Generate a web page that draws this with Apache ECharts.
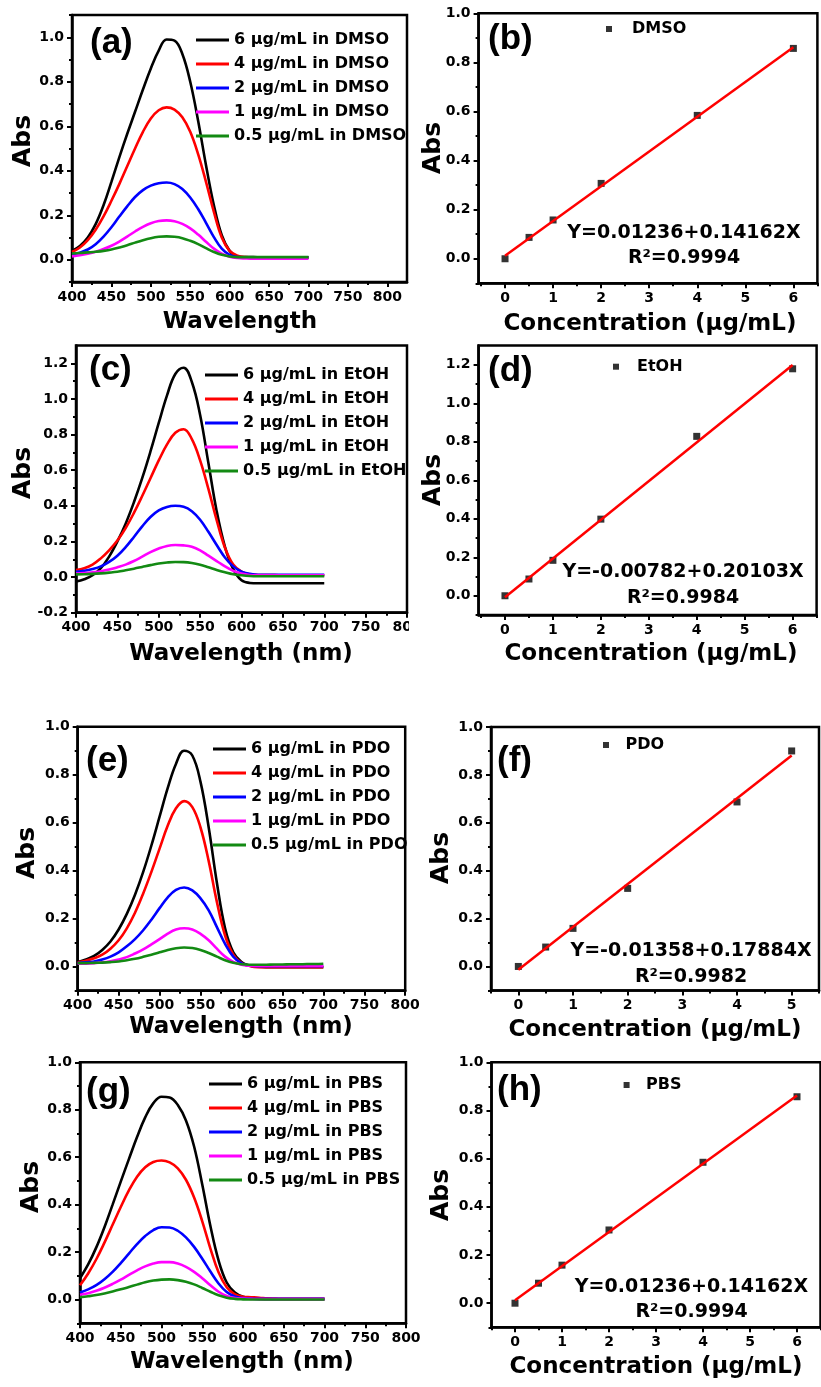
<!DOCTYPE html>
<html>
<head>
<meta charset="utf-8">
<script src="https://cdn.jsdelivr.net/npm/echarts@6/dist/echarts.min.js"></script>
<style>
  html, body { margin: 0; padding: 0; background: #fff; }
  #chart { width: 821px; height: 1387px; }
</style>
</head>
<body>
<div id="chart"></div>
<script>
// ---------- data ----------
const solvents = ['DMSO', 'EtOH', 'PDO', 'PBS'];
const spectrumConcs = ['6', '4', '2', '1', '0.5'];

const wavelengths = [400, 410, 420, 430, 440, 450, 460, 470, 480, 490, 500, 510, 520, 530, 540, 550,
                     560, 570, 580, 590, 600, 610, 620, 630, 640, 650, 660, 670, 680, 690, 700];

// UV-vis absorbance spectra (one array per concentration)
const dmso6  = [0.040, 0.062, 0.100, 0.160, 0.245, 0.350, 0.460, 0.565, 0.665, 0.765, 0.860, 0.940, 0.990, 0.985, 0.925, 0.800,
                0.625, 0.425, 0.245, 0.110, 0.040, 0.015, 0.012, 0.012, 0.011, 0.011, 0.011, 0.010, 0.010, 0.010, 0.010];
const dmso4  = [0.035, 0.055, 0.088, 0.135, 0.195, 0.265, 0.340, 0.420, 0.500, 0.575, 0.635, 0.672, 0.685, 0.675, 0.640, 0.575,
                0.475, 0.350, 0.215, 0.100, 0.040, 0.018, 0.012, 0.011, 0.011, 0.010, 0.010, 0.010, 0.010, 0.010, 0.010];
const dmso2  = [0.025, 0.032, 0.046, 0.070, 0.104, 0.146, 0.194, 0.240, 0.282, 0.313, 0.333, 0.344, 0.347, 0.340, 0.318, 0.280,
                0.228, 0.166, 0.102, 0.050, 0.022, 0.012, 0.010, 0.010, 0.010, 0.010, 0.010, 0.010, 0.010, 0.010, 0.010];
const dmso1  = [0.015, 0.020, 0.027, 0.036, 0.048, 0.063, 0.082, 0.104, 0.127, 0.148, 0.164, 0.174, 0.177, 0.173, 0.161, 0.141,
                0.113, 0.081, 0.050, 0.027, 0.014, 0.008, 0.006, 0.005, 0.005, 0.005, 0.005, 0.005, 0.005, 0.005, 0.005];
const dmso05 = [0.028, 0.030, 0.033, 0.036, 0.040, 0.046, 0.055, 0.065, 0.077, 0.088, 0.097, 0.103, 0.105, 0.103, 0.097, 0.085,
                0.070, 0.052, 0.035, 0.022, 0.015, 0.012, 0.012, 0.012, 0.012, 0.012, 0.012, 0.012, 0.012, 0.012, 0.012];

const etoh6  = [-0.025, -0.012, 0.010, 0.050, 0.115, 0.200, 0.300, 0.420, 0.555, 0.705, 0.865, 1.020, 1.140, 1.175, 1.095, 0.910,
                0.640, 0.370, 0.170, 0.045, -0.018, -0.033, -0.035, -0.035, -0.035, -0.035, -0.035, -0.035, -0.035, -0.035, -0.035];
const etoh4  = [0.040, 0.050, 0.070, 0.105, 0.150, 0.205, 0.275, 0.360, 0.455, 0.555, 0.655, 0.745, 0.810, 0.830, 0.775, 0.655,
                0.495, 0.320, 0.165, 0.070, 0.030, 0.015, 0.012, 0.011, 0.011, 0.010, 0.010, 0.010, 0.010, 0.010, 0.010];
const etoh2  = [0.030, 0.035, 0.045, 0.060, 0.085, 0.120, 0.168, 0.225, 0.285, 0.337, 0.374, 0.394, 0.400, 0.395, 0.370, 0.322,
                0.254, 0.180, 0.110, 0.060, 0.030, 0.018, 0.013, 0.013, 0.013, 0.013, 0.013, 0.013, 0.013, 0.013, 0.013];
const etoh1  = [0.020, 0.022, 0.027, 0.033, 0.042, 0.055, 0.070, 0.090, 0.115, 0.140, 0.160, 0.175, 0.180, 0.178, 0.170, 0.150,
                0.120, 0.090, 0.060, 0.035, 0.020, 0.012, 0.010, 0.010, 0.010, 0.010, 0.010, 0.010, 0.010, 0.010, 0.010];
const etoh05 = [0.015, 0.016, 0.018, 0.021, 0.025, 0.030, 0.038, 0.047, 0.057, 0.067, 0.076, 0.082, 0.085, 0.084, 0.079, 0.069,
                0.055, 0.040, 0.027, 0.016, 0.010, 0.006, 0.005, 0.005, 0.005, 0.005, 0.005, 0.005, 0.005, 0.005, 0.005];

const pdo6   = [0.020, 0.030, 0.045, 0.070, 0.105, 0.155, 0.220, 0.300, 0.395, 0.505, 0.625, 0.745, 0.845, 0.900, 0.880, 0.770,
                0.580, 0.350, 0.160, 0.060, 0.020, 0.005, 0.000, -0.002, -0.002, -0.002, -0.002, -0.002, -0.002, -0.002, -0.002];
const pdo4   = [0.018, 0.025, 0.035, 0.050, 0.075, 0.110, 0.160, 0.225, 0.305, 0.395, 0.492, 0.588, 0.660, 0.690, 0.665, 0.580,
                0.440, 0.270, 0.130, 0.050, 0.015, 0.003, -0.002, -0.002, -0.002, -0.002, -0.002, -0.002, -0.002, -0.002, -0.002];
const pdo2   = [0.015, 0.018, 0.022, 0.030, 0.042, 0.060, 0.085, 0.115, 0.152, 0.196, 0.244, 0.289, 0.320, 0.330, 0.318, 0.285,
                0.235, 0.165, 0.095, 0.042, 0.014, 0.004, 0.002, 0.002, 0.002, 0.002, 0.002, 0.002, 0.002, 0.002, 0.002];
const pdo1   = [0.012, 0.013, 0.015, 0.018, 0.023, 0.030, 0.040, 0.055, 0.072, 0.093, 0.115, 0.138, 0.155, 0.160, 0.155, 0.137,
                0.110, 0.075, 0.042, 0.020, 0.008, 0.004, 0.003, 0.003, 0.003, 0.003, 0.003, 0.003, 0.003, 0.003, 0.003];
const pdo05  = [0.015, 0.015, 0.016, 0.017, 0.019, 0.022, 0.027, 0.033, 0.041, 0.050, 0.060, 0.070, 0.077, 0.080, 0.078, 0.070,
                0.057, 0.042, 0.027, 0.016, 0.010, 0.008, 0.008, 0.008, 0.009, 0.009, 0.010, 0.010, 0.011, 0.011, 0.012];

const pbs6   = [0.090, 0.148, 0.220, 0.305, 0.400, 0.497, 0.592, 0.685, 0.768, 0.828, 0.855, 0.852, 0.820, 0.755, 0.645, 0.485,
                0.310, 0.165, 0.072, 0.030, 0.012, 0.005, 0.003, 0.002, 0.002, 0.002, 0.002, 0.002, 0.002, 0.002, 0.002];
const pbs4   = [0.060, 0.110, 0.170, 0.240, 0.315, 0.390, 0.460, 0.518, 0.558, 0.580, 0.586, 0.578, 0.553, 0.505, 0.430, 0.330,
                0.215, 0.115, 0.052, 0.022, 0.012, 0.010, 0.008, 0.005, 0.004, 0.003, 0.003, 0.003, 0.003, 0.003, 0.003];
const pbs2   = [0.030, 0.043, 0.061, 0.086, 0.117, 0.154, 0.194, 0.234, 0.268, 0.293, 0.305, 0.304, 0.290, 0.262, 0.222, 0.172,
                0.118, 0.068, 0.032, 0.013, 0.006, 0.004, 0.003, 0.003, 0.003, 0.003, 0.003, 0.003, 0.003, 0.003, 0.003];
const pbs1   = [0.020, 0.027, 0.037, 0.050, 0.066, 0.084, 0.104, 0.123, 0.140, 0.152, 0.158, 0.158, 0.152, 0.138, 0.117, 0.090,
                0.060, 0.033, 0.015, 0.007, 0.004, 0.003, 0.002, 0.002, 0.002, 0.002, 0.002, 0.002, 0.002, 0.002, 0.002];
const pbs05  = [0.010, 0.014, 0.019, 0.026, 0.034, 0.043, 0.053, 0.063, 0.073, 0.080, 0.084, 0.085, 0.082, 0.075, 0.064, 0.049,
                0.033, 0.018, 0.008, 0.003, 0.001, 0.000, 0.000, 0.000, 0.000, 0.000, 0.000, 0.000, 0.000, 0.000, 0.000];

// calibration points (concentration in μg/mL, absorbance at λmax)
const calConcDMSO = [0, 0.5, 1, 2, 4, 6];
const calAbsDMSO  = [0.000, 0.087, 0.158, 0.307, 0.584, 0.857];
const calConcEtOH = [0, 0.5, 1, 2, 4, 6];
const calAbsEtOH  = [0.000, 0.087, 0.184, 0.398, 0.828, 1.179];
const calConcPDO  = [0, 0.5, 1, 2, 4, 5];
const calAbsPDO   = [0.000, 0.081, 0.159, 0.326, 0.687, 0.900];
const calConcPBS  = [0, 0.5, 1, 2, 4, 6];
const calAbsPBS   = [0.000, 0.083, 0.158, 0.304, 0.585, 0.857];

// linear fits: Y = intercept + slope * X
const fitIntercept = [0.01236, -0.00782, -0.01358, 0.01236];
const fitSlope     = [0.14162, 0.20103, 0.17884, 0.14162];
const fitR2        = ['0.9994', '0.9984', '0.9982', '0.9994'];

// tick labels
const wlTicks   = [400, 450, 500, 550, 600, 650, 700, 750, 800];
const wlMinor   = [425, 475, 525, 575, 625, 675, 725, 775];
const absTicks  = [0, 0.2, 0.4, 0.6, 0.8, 1.0];
const absTicksC = [-0.2, 0, 0.2, 0.4, 0.6, 0.8, 1.0, 1.2];
const absTicksD = [0, 0.2, 0.4, 0.6, 0.8, 1.0, 1.2];
const absMinor  = [-0.1, 0.1, 0.3, 0.5, 0.7, 0.9, 1.1];
const concTicks6 = [0, 1, 2, 3, 4, 5, 6];
const concTicks5 = [0, 1, 2, 3, 4, 5];
const concMinor  = [-0.5, 0.5, 1.5, 2.5, 3.5, 4.5, 5.5, 6.5];

const panelTags = ['(a)', '(b)', '(c)', '(d)', '(e)', '(f)', '(g)', '(h)'];
const xTitles = ['Wavelength', 'Concentration (μg/mL)', 'Wavelength (nm)', 'Concentration (μg/mL)',
                 'Wavelength (nm)', 'Concentration (μg/mL)', 'Wavelength (nm)', 'Concentration (μg/mL)'];

// ---------- layout & style ----------
const FONT = '"DejaVu Sans", sans-serif';
const TAG_FONT = '"Liberation Sans", Arial, sans-serif';
const specColors = ['#000000', '#ff0000', '#0000ff', '#ff00ff', '#138a13'];

const spectraBySolvent = [
  [dmso6, dmso4, dmso2, dmso1, dmso05],
  [etoh6, etoh4, etoh2, etoh1, etoh05],
  [pdo6, pdo4, pdo2, pdo1, pdo05],
  [pbs6, pbs4, pbs2, pbs1, pbs05]
];
const calConc = [calConcDMSO, calConcEtOH, calConcPDO, calConcPBS];
const calAbs  = [calAbsDMSO, calAbsEtOH, calAbsPDO, calAbsPBS];

const fmtAbs = v => v.toFixed(1);
const fmtInt = v => String(v);

const panels = [
  { grid: { left: 72,    top: 15,     width: 335,   height: 267 },   x: [400, 825],   y: [-0.1, 1.1], xt: wlTicks,    xm: wlMinor,   yt: absTicks,  fx: fmtInt },
  { grid: { left: 478.6, top: 13.3,   width: 338.8, height: 270 },   x: [-0.55, 6.5], y: [-0.1, 1.0], xt: concTicks6, xm: concMinor, yt: absTicks,  fx: fmtInt },
  { grid: { left: 76,    top: 345.5,  width: 331,   height: 267.2 }, x: [400, 800],   y: [-0.2, 1.3], xt: wlTicks,    xm: wlMinor,   yt: absTicksC, fx: fmtInt },
  { grid: { left: 478.6, top: 345.5,  width: 338,   height: 269.5 }, x: [-0.55, 6.5], y: [-0.1, 1.3], xt: concTicks6, xm: concMinor, yt: absTicksD, fx: fmtInt },
  { grid: { left: 77.7,  top: 726.7,  width: 327.5, height: 264 },   x: [400, 800],   y: [-0.1, 1.0], xt: wlTicks,    xm: wlMinor,   yt: absTicks,  fx: fmtInt },
  { grid: { left: 491,   top: 727,    width: 328,   height: 263.4 }, x: [-0.5, 5.5],  y: [-0.1, 1.0], xt: concTicks5, xm: concMinor, yt: absTicks,  fx: fmtInt },
  { grid: { left: 80,    top: 1062.3, width: 326,   height: 261 },   x: [400, 800],   y: [-0.1, 1.0], xt: wlTicks,    xm: wlMinor,   yt: absTicks,  fx: fmtInt },
  { grid: { left: 491.5, top: 1062.3, width: 329,   height: 265 },   x: [-0.5, 6.5],  y: [-0.1, 1.0], xt: concTicks6, xm: concMinor, yt: absTicks,  fx: fmtInt }
];

// text anchors (centers)
const xTitlePos   = [[240, 322], [650, 324], [241, 654], [651, 654], [241, 1027], [655, 1030], [242, 1362], [656, 1367]];
const yTitlePos   = [[23, 141], [433, 148], [23, 473], [433, 480], [27.5, 853], [441.7, 858], [31.7, 1187], [441.7, 1195]];
const tagPos      = [[90, 43], [488, 39], [89, 370], [488, 371], [86, 761], [497, 761], [86, 1092], [497, 1090]];
const specLegendPos = [[196, 32], [205, 367], [213, 741], [209, 1076]];
const calLegendPos  = [[606, 21, 36], [613, 358.7, 32], [603, 737, 29], [623.6, 1077, 29]];
const eqPos         = [[684, 233, 258], [683, 572.5, 598], [691, 951, 977], [691.5, 1287, 1312.5]];

// ---------- option ----------
const tickLabel = { color: '#000', fontFamily: FONT, fontWeight: 'bold', fontSize: 14 };
const black = { color: '#000', width: 2 };

function axisPair(gi, range, major, minor, fmt, position) {
  const common = { type: 'value', gridIndex: gi, min: range[0], max: range[1], position: position, splitLine: { show: false } };
  return [
    Object.assign({}, common, {
      axisLine: { show: true, onZero: false, lineStyle: { color: '#000', width: 2.5 } },
      axisTick: { show: true, inside: false, length: 5, customValues: major, lineStyle: black },
      axisLabel: Object.assign({ show: true, customValues: major, formatter: fmt, margin: 8 }, tickLabel)
    }),
    Object.assign({}, common, {
      axisLine: { show: false, onZero: false },
      axisTick: { show: true, inside: false, length: 3, customValues: minor, lineStyle: black },
      axisLabel: { show: false }
    })
  ];
}

const xAxis = [], yAxis = [], series = [], legend = [], elements = [];

panels.forEach((p, i) => {
  xAxis.push(...axisPair(i, p.x, p.xt, p.xm, p.fx, 'bottom'));
  yAxis.push(...axisPair(i, p.y, p.yt, absMinor, fmtAbs, 'left'));
});

solvents.forEach((sv, s) => {
  // spectra panel
  const gs = 2 * s;
  const names = [];
  spectraBySolvent[s].forEach((vals, k) => {
    const name = spectrumConcs[k] + ' μg/mL in ' + sv;
    names.push(name);
    series.push({
      type: 'line', name: name, xAxisIndex: 2 * gs, yAxisIndex: 2 * gs,
      data: wavelengths.map((w, j) => [w, vals[j]]),
      symbol: 'none', smooth: 0.4,
      lineStyle: { width: 2.6, color: specColors[k] },
      itemStyle: { color: specColors[k] },
      z: 2 + k
    });
  });
  legend.push({
    left: specLegendPos[s][0], top: specLegendPos[s][1], orient: 'vertical',
    padding: 0, itemGap: 8, itemWidth: 33, itemHeight: 3, icon: 'rect',
    selectedMode: false, data: names,
    textStyle: { color: '#000', fontFamily: FONT, fontWeight: 'bold', fontSize: 16, lineHeight: 16 }
  });

  // calibration panel
  const gc = 2 * s + 1;
  const xs = calConc[s];
  series.push({
    type: 'scatter', name: sv, xAxisIndex: 2 * gc, yAxisIndex: 2 * gc,
    data: xs.map((c, j) => [c, calAbs[s][j]]),
    symbol: 'rect', symbolSize: 7, itemStyle: { color: '#000' }, z: 3
  });
  const xEnd = xs[xs.length - 1];
  series.push({
    type: 'line', name: 'fit ' + sv, xAxisIndex: 2 * gc, yAxisIndex: 2 * gc,
    data: [[0, fitIntercept[s]], [xEnd, fitIntercept[s] + fitSlope[s] * xEnd]],
    symbol: 'none', lineStyle: { width: 2.5, color: '#ff0000' }, itemStyle: { color: '#ff0000' }, z: 4
  });
  legend.push({
    left: calLegendPos[s][0], top: calLegendPos[s][1], orient: 'vertical',
    padding: 0, itemWidth: calLegendPos[s][2], itemHeight: 6,
    icon: 'path://M0,0L10,0L10,10L0,10Z', symbolKeepAspect: true,
    selectedMode: false, data: [sv],
    textStyle: { color: '#000', fontFamily: FONT, fontWeight: 'bold', fontSize: 16, lineHeight: 16 }
  });

  const eq = eqPos[s];
  elements.push({
    type: 'text', x: eq[0], y: eq[1], z: 10,
    style: { text: 'Y=' + fitIntercept[s] + '+' + fitSlope[s] + 'X', align: 'center', verticalAlign: 'middle',
             fill: '#000', font: 'bold 19px ' + FONT }
  });
  elements.push({
    type: 'text', x: eq[0], y: eq[2], z: 10,
    style: { text: 'R²=' + fitR2[s], align: 'center', verticalAlign: 'middle', fill: '#000', font: 'bold 19px ' + FONT }
  });
});

panels.forEach((p, i) => {
  elements.push({
    type: 'text', x: xTitlePos[i][0], y: xTitlePos[i][1], z: 10,
    style: { text: xTitles[i], align: 'center', verticalAlign: 'middle', fill: '#000', font: 'bold 23px ' + FONT }
  });
  elements.push({
    type: 'text', x: yTitlePos[i][0], y: yTitlePos[i][1], rotation: Math.PI / 2, z: 10,
    style: { text: 'Abs', align: 'center', verticalAlign: 'middle', fill: '#000', font: 'bold 25px ' + FONT }
  });
  elements.push({
    type: 'text', x: tagPos[i][0], y: tagPos[i][1], z: 10,
    style: { text: panelTags[i], align: 'left', verticalAlign: 'middle', fill: '#000', font: 'bold 35px ' + TAG_FONT }
  });
});

// right-column panels sit over the end of the (c) wavelength labels
elements.push({ type: 'rect', shape: { x: 409, y: 620, width: 12, height: 24 }, style: { fill: '#fff' }, z: 100 });

const option = {
  animation: false,
  backgroundColor: '#ffffff',
  grid: panels.map(p => Object.assign({}, p.grid, {
    show: true, borderColor: '#000', borderWidth: 2.5, backgroundColor: 'transparent',
    containLabel: false, outerBoundsMode: 'none'
  })),
  xAxis: xAxis,
  yAxis: yAxis,
  legend: legend,
  series: series,
  graphic: { elements: elements }
};

const chart = echarts.init(document.getElementById('chart'), null, { renderer: 'canvas' });
chart.setOption(option);
</script>
</body>
</html>
